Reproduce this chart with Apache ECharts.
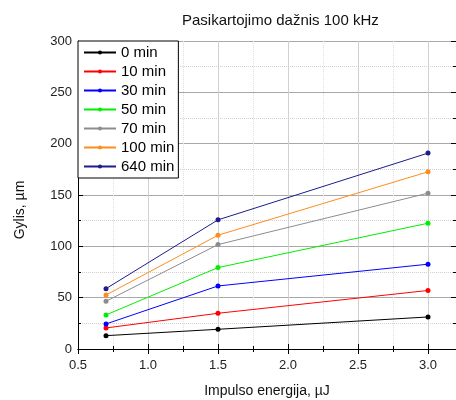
<!DOCTYPE html>
<html><head><meta charset="utf-8">
<script src="https://cdn.jsdelivr.net/npm/echarts@6/dist/echarts.min.js"></script>
<style>html,body{margin:0;padding:0;background:#fff}#c{width:456px;height:400px}</style>
</head><body><div id="c"></div>
<script>
const energies = [0.7, 1.5, 3.0];
const seriesNames = ['0 min','10 min','30 min','50 min','70 min','100 min','640 min'];
const v0 = [13, 19.2, 31.2];
const v10 = [20.5, 34.8, 57];
const v30 = [24.4, 61.4, 82.6];
const v50 = [33.2, 79.3, 122.5];
const v70 = [46.5, 101.7, 151.8];
const v100 = [52.6, 110.8, 172.6];
const v640 = [58.8, 125.8, 190.8];
const allValues = [v0, v10, v30, v50, v70, v100, v640];
const colors = ['#000000','#ff0000','#0000ff','#00ee00','#8c8c8c','#ff8c1a','#1c1c8c'];

const FONT = 'Arial, "Liberation Sans", sans-serif';
const chart = echarts.init(document.getElementById('c'));
const axisBase = {
  axisLine:{show:true,lineStyle:{color:'#000',width:1}},
  axisTick:{show:true,inside:true,length:5,lineStyle:{color:'#000'}},
  minorTick:{show:true,splitNumber:2,length:3,lineStyle:{color:'#000'}},
};
chart.setOption({
  animation:false,
  title:{text:'Pasikartojimo dažnis 100 kHz',left:177,top:8,
    textStyle:{fontFamily:FONT,fontSize:15,fontWeight:'normal',color:'#111'}},
  grid:{left:78,top:41,width:378,height:308,containLabel:false,outerBoundsMode:'none'},
  legend:{orient:'vertical',left:78,top:41,data:seriesNames,
    backgroundColor:'#fff',borderColor:'#000',borderWidth:1,borderRadius:0,
    padding:[4,4,4,5],itemWidth:32,itemHeight:5,itemGap:4,
    textStyle:{fontFamily:FONT,fontSize:15,color:'#000',lineHeight:15}},
  xAxis:[
    Object.assign({type:'value',min:0.5,max:3.2,interval:0.5,position:'bottom',
      name:'Impulso energija, µJ',nameLocation:'middle',nameGap:35,
      nameTextStyle:{fontFamily:FONT,fontSize:14,color:'#111'},
      axisLabel:{fontFamily:FONT,fontSize:13,color:'#222',margin:10,
        formatter:v=>v.toFixed(1),showMaxLabel:false},
      splitLine:{show:true,lineStyle:{color:'#d0d0d0',width:1}},
      minorSplitLine:{show:true,lineStyle:{color:'#e0e0e0',type:'dotted'}}
    },axisBase),
    Object.assign({type:'value',min:0.5,max:3.2,interval:0.5,position:'top',
      axisLabel:{show:false},splitLine:{show:false}},axisBase)
  ],
  yAxis:[
    Object.assign({type:'value',min:0,max:300,interval:50,position:'left',
      name:'Gylis, µm',nameLocation:'middle',nameGap:51,
      nameTextStyle:{fontFamily:FONT,fontSize:14,color:'#111',padding:[0,30,0,0]},
      axisLabel:{fontFamily:FONT,fontSize:13,color:'#222',margin:6},
      splitLine:{show:true,lineStyle:{color:'#a8a8a8',width:1}},
      minorSplitLine:{show:true,lineStyle:{color:'#d0d0d0',type:'dotted'}}
    },axisBase),
    Object.assign({type:'value',min:0,max:300,interval:50,position:'right',
      axisLabel:{show:false},splitLine:{show:false}},axisBase,
      {axisLine:{show:false}})
  ],
  series: seriesNames.map((n,i)=>({
    name:n,type:'line',xAxisIndex:0,yAxisIndex:0,
    data: energies.map((e,j)=>[e, allValues[i][j]]),
    symbol:'circle',symbolSize:5,
    lineStyle:{color:colors[i],width:1},
    itemStyle:{color:colors[i]}
  }))
});
</script></body></html>
